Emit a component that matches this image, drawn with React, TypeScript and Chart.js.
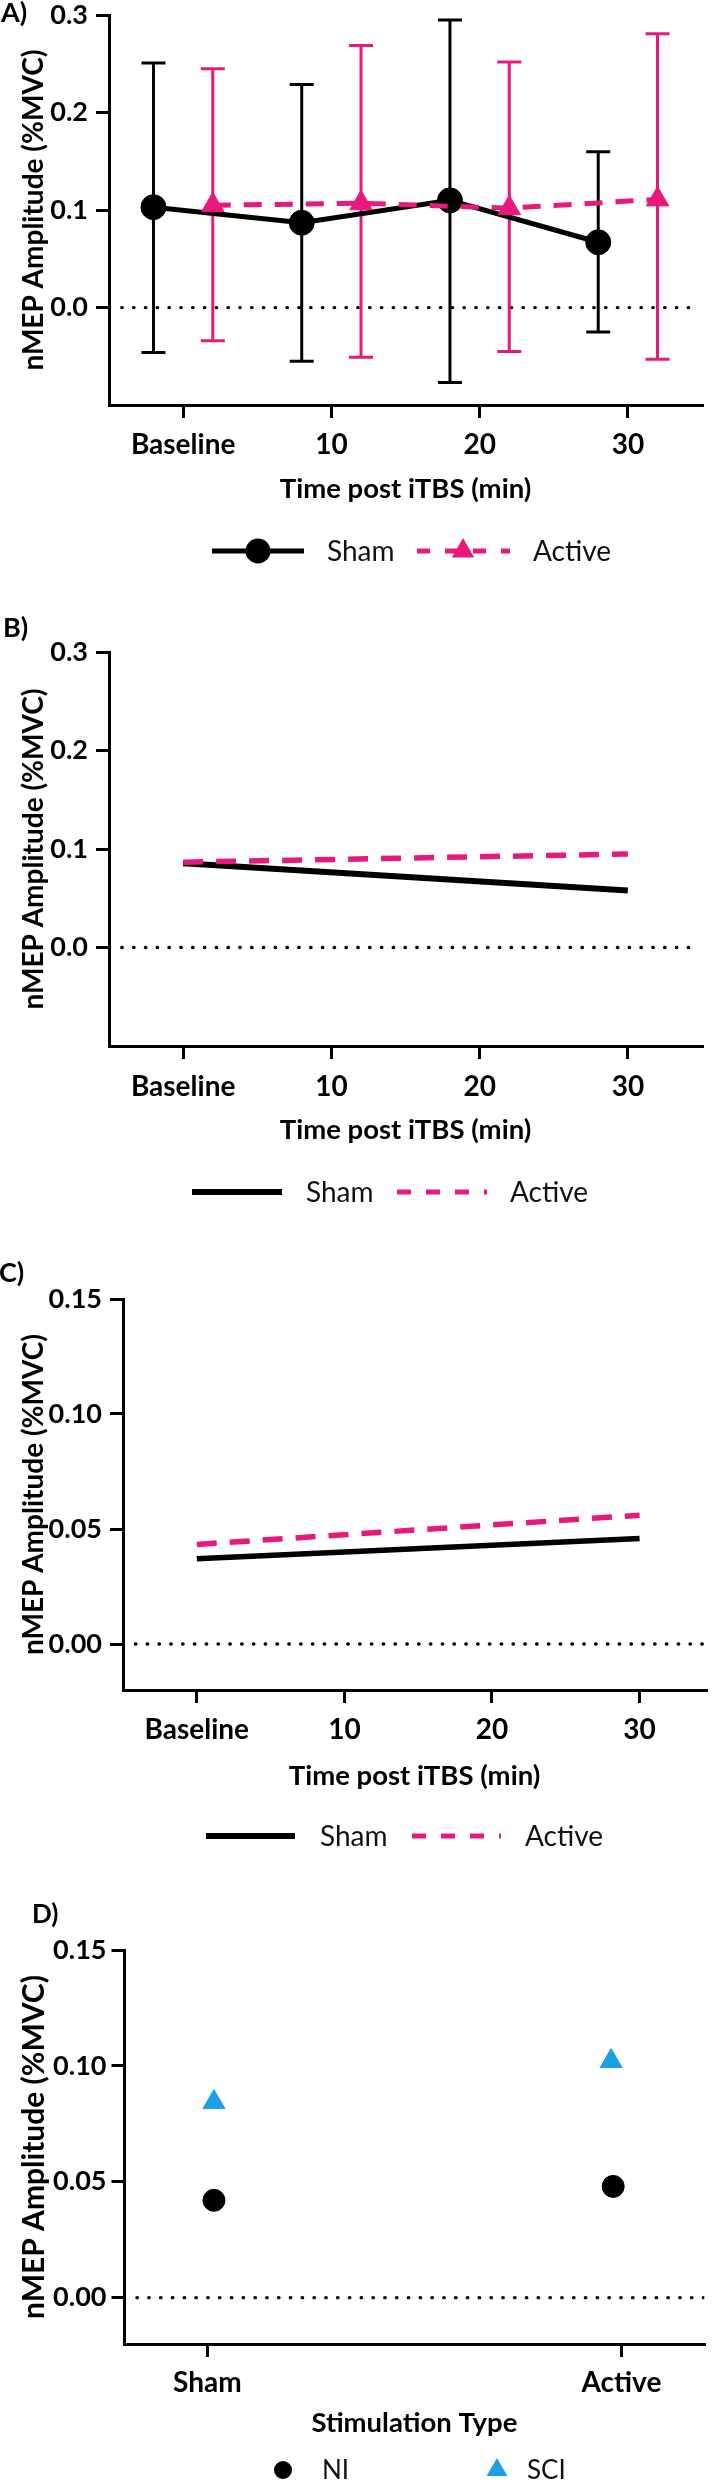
import React, { useEffect, useRef } from 'react';
import { Chart, registerables } from 'chart.js';

Chart.register(...registerables);

// ---------------- data ----------------
const timeTicks = [0, 10, 20, 30];
const shamTimesA = [-2, 8, 18, 28];
const activeTimesA = [2, 12, 22, 32];
const shamMeanA = [0.103, 0.087, 0.11, 0.067];
const shamLowerA = [-0.046, -0.055, -0.077, -0.025];
const shamUpperA = [0.251, 0.229, 0.295, 0.16];
const activeMeanA = [0.105, 0.107, 0.102, 0.111];
const activeLowerA = [-0.034, -0.051, -0.045, -0.053];
const activeUpperA = [0.245, 0.269, 0.252, 0.281];

const fitTimes = [0, 30];
const shamFitB = [0.0856, 0.0578];
const activeFitB = [0.0866, 0.0949];
const shamFitC = [0.0371, 0.0459];
const activeFitC = [0.0433, 0.056];

const stimTypes = ['Sham', 'Active'];
const stimTicks = [0, 1];
const stimPosNI = [0.016, 0.98];
const stimPosSCI = [0.016, 0.975];
const niD = [0.042, 0.048];
const sciD = [0.0843, 0.102];

const yTicksAB = [0, 0.1, 0.2, 0.3];
const yTicksCD = [0, 0.05, 0.1, 0.15];
const zeroSpanAB = [-4.14, 34.26];
const zeroSpanC = [-4.16, 34.4];
const zeroSpanD = [-0.17, 1.2];

// ---------------- styling ----------------
const FONT = 'Lato, "Open Sans", "DejaVu Sans", sans-serif';
const PINK = '#E8187C';
const BLUE = '#1D9FE4';
const BLACK = '#000000';
const PAGE_W = 718;
const Y_TITLE = 'nMEP Amplitude (%MVC)';
const X_TITLE_TIME = 'Time post iTBS (min)';
const X_TITLE_STIM = 'Stimulation Type';

const pts = (xs: number[], ys: number[]) => xs.map((x, i) => ({ x, y: ys[i] }));
const errPts = (xs: number[], lo: number[], hi: number[]) =>
  xs.flatMap((x, i) => [
    { x, y: lo[i] },
    { x, y: hi[i] },
    { x, y: null as any },
  ]);

const zeroLine = (span: number[]) => ({
  label: 'zero',
  data: span.map((x) => ({ x, y: 0 })),
  showLine: true,
  borderColor: BLACK,
  borderWidth: 3.3,
  borderDash: [0.5, 11.3],
  borderCapStyle: 'round',
  pointRadius: 0,
  order: 20,
});

const errorBars = (xs: number[], lo: number[], hi: number[], color: string, order: number) => ({
  label: 'err',
  data: errPts(xs, lo, hi),
  showLine: true,
  spanGaps: false,
  borderColor: color,
  borderWidth: 3,
  pointStyle: 'line',
  pointRadius: 12,
  pointBorderColor: color,
  pointBorderWidth: 3,
  order,
});

const timeLabel = (v: number) => (v === 0 ? 'Baseline' : String(v));
const stimLabel = (v: number) => {
  const i = stimTicks.indexOf(v);
  return i >= 0 ? stimTypes[i] : '';
};

function drawMarker(ctx: CanvasRenderingContext2D, shape: string, x: number, y: number, r: number, color: string) {
  ctx.fillStyle = color;
  ctx.beginPath();
  if (shape === 'circle') {
    ctx.arc(x, y, r, 0, Math.PI * 2);
  } else {
    ctx.moveTo(x, y - r);
    ctx.lineTo(x + 0.866 * r, y + 0.5 * r);
    ctx.lineTo(x - 0.866 * r, y + 0.5 * r);
    ctx.closePath();
  }
  ctx.fill();
}

function makeDecor(spec: any) {
  return {
    id: 'decor',
    afterDraw(chart: any) {
      const ctx: CanvasRenderingContext2D = chart.ctx;
      ctx.save();
      const L = spec.letter;
      ctx.font = `bold ${L.size}px ${FONT}`;
      ctx.fillStyle = BLACK;
      ctx.textAlign = 'left';
      ctx.textBaseline = 'middle';
      ctx.fillText(L.text, L.x, L.y - spec.top);
      const ly = spec.legendY - spec.top;
      for (const it of spec.legend) {
        if (it.line) {
          ctx.beginPath();
          ctx.setLineDash(it.line.dash || []);
          ctx.lineWidth = it.line.width;
          ctx.strokeStyle = it.line.color;
          ctx.lineCap = 'butt';
          ctx.moveTo(it.line.x0, ly);
          ctx.lineTo(it.line.x1, ly);
          ctx.stroke();
          ctx.setLineDash([]);
        }
        if (it.marker) drawMarker(ctx, it.marker.shape, it.marker.x, ly, it.marker.r, it.marker.color);
        ctx.font = `${it.size}px ${FONT}`;
        ctx.fillStyle = '#111111';
        ctx.textAlign = 'left';
        ctx.textBaseline = 'middle';
        ctx.fillText(it.text, it.tx, ly + 1);
      }
      ctx.restore();
    },
  };
}

function buildConfig(p: any) {
  const padTop = p.area.top - p.top;
  const padBottom = p.top + p.height - p.area.bottom - p.xAxisHeight;
  const tickFont = (size: number) => ({ family: FONT, size, weight: 'bold', lineHeight: 1.2 });
  return {
    type: 'scatter',
    data: { datasets: p.datasets },
    options: {
      responsive: false,
      maintainAspectRatio: false,
      animation: false,
      devicePixelRatio: 1,
      events: [],
      layout: { padding: { top: padTop, bottom: padBottom, left: 0, right: PAGE_W - p.area.right } },
      plugins: { legend: { display: false }, tooltip: { enabled: false } },
      scales: {
        x: {
          type: 'linear',
          min: p.xMin,
          max: p.xMax,
          border: { display: true, color: BLACK, width: 3 },
          grid: {
            display: true,
            drawOnChartArea: false,
            drawTicks: true,
            tickLength: 13,
            tickWidth: 3,
            tickColor: BLACK,
            color: BLACK,
            lineWidth: 3,
          },
          ticks: {
            autoSkip: false,
            maxRotation: 0,
            minRotation: 0,
            padding: p.xTickPad,
            color: BLACK,
            font: tickFont(28),
            callback: (v: any) => p.xLabel(Number(v)),
          },
          title: {
            display: true,
            text: p.xTitle,
            color: BLACK,
            font: tickFont(27.5),
            padding: { top: 0, bottom: 0 },
          },
          afterBuildTicks: (s: any) => {
            s.ticks = p.xTicks.map((v: number) => ({ value: v }));
          },
          afterFit: (s: any) => {
            s.height = p.xAxisHeight;
          },
        },
        y: {
          type: 'linear',
          min: p.yMin,
          max: p.yMax,
          border: { display: true, color: BLACK, width: 3 },
          grid: {
            display: true,
            drawOnChartArea: false,
            drawTicks: true,
            tickLength: 13,
            tickWidth: 3,
            tickColor: BLACK,
            color: BLACK,
            lineWidth: 3,
          },
          ticks: {
            autoSkip: false,
            padding: p.yTickPad,
            color: BLACK,
            font: tickFont(p.yTickSize),
            callback: (v: any) => Number(v).toFixed(p.yDigits),
          },
          title: {
            display: true,
            text: Y_TITLE,
            color: BLACK,
            font: tickFont(p.yTitleSize),
            padding: { top: p.yTitlePad, bottom: 0 },
          },
          afterBuildTicks: (s: any) => {
            s.ticks = p.yTicks.map((v: number) => ({ value: v }));
          },
          afterFit: (s: any) => {
            s.width = p.area.left;
          },
        },
      },
    },
    plugins: [makeDecor(p)],
  };
}

// ---------------- panels ----------------
const panels: any[] = [
  {
    top: -9,
    height: 600,
    area: { left: 109, right: 702, top: 11, bottom: 405 },
    xMin: -5,
    xMax: 35,
    xTicks: timeTicks,
    xLabel: timeLabel,
    xTitle: X_TITLE_TIME,
    xTickPad: 10,
    xAxisHeight: 101,
    yMin: -0.1,
    yMax: 0.3,
    yTicks: yTicksAB,
    yDigits: 1,
    yTickSize: 27,
    yTickPad: 8,
    yTitleSize: 28,
    yTitlePad: 17,
    letter: { text: 'A)', x: 1, y: 13, size: 27 },
    legendY: 551,
    legend: [
      { line: { x0: 212, x1: 304, color: BLACK, width: 5 }, marker: { shape: 'circle', x: 258, r: 12.5, color: BLACK }, text: 'Sham', tx: 327, size: 28 },
      { line: { x0: 417, x1: 510, color: PINK, width: 5, dash: [13, 15] }, marker: { shape: 'triangle', x: 463, r: 13, color: PINK }, text: 'Active', tx: 533, size: 28 },
    ],
    datasets: [
      zeroLine(zeroSpanAB),
      errorBars(shamTimesA, shamLowerA, shamUpperA, BLACK, 6),
      errorBars(activeTimesA, activeLowerA, activeUpperA, PINK, 5),
      {
        label: 'Sham',
        data: pts(shamTimesA, shamMeanA),
        showLine: true,
        borderColor: BLACK,
        borderWidth: 5,
        pointStyle: 'circle',
        pointRadius: 12.5,
        pointBackgroundColor: BLACK,
        pointBorderColor: BLACK,
        pointBorderWidth: 1,
        order: 4,
      },
      {
        label: 'Active',
        data: pts(activeTimesA, activeMeanA),
        showLine: true,
        borderColor: PINK,
        borderWidth: 5,
        borderDash: [18, 13],
        pointStyle: 'triangle',
        pointRadius: 13,
        pointBackgroundColor: PINK,
        pointBorderColor: PINK,
        pointBorderWidth: 1,
        order: 3,
      },
    ],
  },
  {
    top: 612,
    height: 606,
    area: { left: 109, right: 702, top: 652, bottom: 1046 },
    xMin: -5,
    xMax: 35,
    xTicks: timeTicks,
    xLabel: timeLabel,
    xTitle: X_TITLE_TIME,
    xTickPad: 11,
    xAxisHeight: 101,
    yMin: -0.1,
    yMax: 0.3,
    yTicks: yTicksAB,
    yDigits: 1,
    yTickSize: 27,
    yTickPad: 8,
    yTitleSize: 28,
    yTitlePad: 17,
    letter: { text: 'B)', x: 3, y: 628, size: 27 },
    legendY: 1192,
    legend: [
      { line: { x0: 192, x1: 282, color: BLACK, width: 6 }, text: 'Sham', tx: 306, size: 28 },
      { line: { x0: 397, x1: 487, color: PINK, width: 5, dash: [14, 15] }, text: 'Active', tx: 510, size: 28 },
    ],
    datasets: [
      zeroLine(zeroSpanAB),
      {
        label: 'Sham',
        data: pts(fitTimes, shamFitB),
        showLine: true,
        borderColor: BLACK,
        borderWidth: 6,
        pointRadius: 0,
        order: 4,
      },
      {
        label: 'Active',
        data: pts(fitTimes, activeFitB),
        showLine: true,
        borderColor: PINK,
        borderWidth: 5.5,
        borderDash: [20, 13],
        pointRadius: 0,
        order: 3,
      },
    ],
  },
  {
    top: 1260,
    height: 600,
    area: { left: 123, right: 706, top: 1299, bottom: 1690 },
    xMin: -5,
    xMax: 34.5,
    xTicks: timeTicks,
    xLabel: timeLabel,
    xTitle: X_TITLE_TIME,
    xTickPad: 10,
    xAxisHeight: 103,
    yMin: -0.02,
    yMax: 0.15,
    yTicks: yTicksCD,
    yDigits: 2,
    yTickSize: 27,
    yTickPad: 8,
    yTitleSize: 28,
    yTitlePad: 17,
    letter: { text: 'C)', x: -1, y: 1273, size: 27 },
    legendY: 1836,
    legend: [
      { line: { x0: 206, x1: 295, color: BLACK, width: 6 }, text: 'Sham', tx: 320, size: 28 },
      { line: { x0: 412, x1: 501, color: PINK, width: 5, dash: [14, 15] }, text: 'Active', tx: 525, size: 28 },
    ],
    datasets: [
      zeroLine(zeroSpanC),
      {
        label: 'Sham',
        data: pts(fitTimes, shamFitC),
        showLine: true,
        borderColor: BLACK,
        borderWidth: 5.5,
        pointRadius: 0,
        order: 4,
      },
      {
        label: 'Active',
        data: pts(fitTimes, activeFitC),
        showLine: true,
        borderColor: PINK,
        borderWidth: 5.5,
        borderDash: [20, 13],
        pointRadius: 0,
        order: 3,
      },
    ],
  },
  {
    top: 1895,
    height: 585,
    area: { left: 124.5, right: 714.5, top: 1950, bottom: 2344 },
    xMin: -0.2,
    xMax: 1.2,
    xTicks: stimTicks,
    xLabel: stimLabel,
    xTitle: X_TITLE_STIM,
    xTickPad: 9,
    xAxisHeight: 96,
    yMin: -0.02,
    yMax: 0.15,
    yTicks: yTicksCD,
    yDigits: 2,
    yTickSize: 27,
    yTickPad: 5,
    yTitleSize: 30,
    yTitlePad: 16,
    letter: { text: 'D)', x: 32, y: 1915, size: 26 },
    legendY: 2470,
    legend: [
      { marker: { shape: 'circle', x: 283, r: 9, color: BLACK }, text: 'NI', tx: 322, size: 26 },
      { marker: { shape: 'triangle', x: 497, r: 12, color: BLUE }, text: 'SCI', tx: 527, size: 26 },
    ],
    datasets: [
      zeroLine(zeroSpanD),
      {
        label: 'NI',
        data: pts(stimPosNI, niD),
        showLine: false,
        pointStyle: 'circle',
        pointRadius: 11,
        pointBackgroundColor: BLACK,
        pointBorderColor: BLACK,
        pointBorderWidth: 1,
        order: 4,
      },
      {
        label: 'SCI',
        data: pts(stimPosSCI, sciD),
        showLine: false,
        pointStyle: 'triangle',
        pointRadius: 12.7,
        pointBackgroundColor: BLUE,
        pointBorderColor: BLUE,
        pointBorderWidth: 1,
        order: 3,
      },
    ],
  },
];

function Panel({ spec }: { spec: any }) {
  const ref = useRef<HTMLCanvasElement>(null);
  useEffect(() => {
    if (!ref.current) return;
    const chart = new Chart(ref.current, buildConfig(spec) as any);
    return () => chart.destroy();
  }, [spec]);
  return (
    <canvas
      ref={ref}
      width={PAGE_W}
      height={spec.height}
      style={{ position: 'absolute', left: 0, top: spec.top, width: PAGE_W, height: spec.height, display: 'block' }}
    />
  );
}

export default function App() {
  return (
    <div
      style={{
        position: 'absolute',
        left: 0,
        top: 0,
        width: PAGE_W,
        height: 2480,
        background: '#ffffff',
        overflow: 'hidden',
      }}
    >
      {panels.map((p, i) => (
        <Panel key={i} spec={p} />
      ))}
    </div>
  );
}
